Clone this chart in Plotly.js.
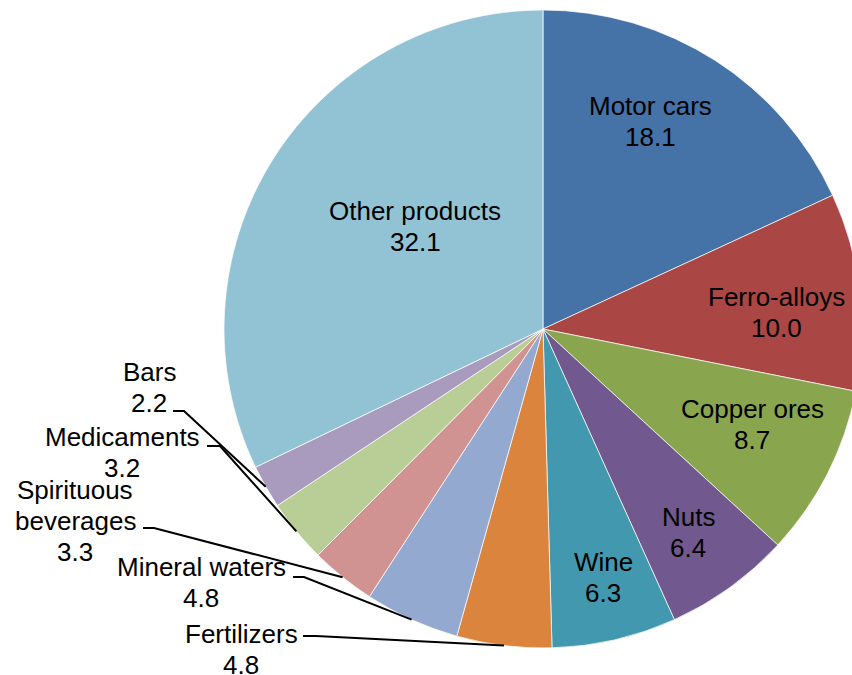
<!DOCTYPE html>
<html>
<head>
<meta charset="utf-8">
<script src="https://cdn.plot.ly/plotly-3.0.1.min.js"></script>
<style>
html,body{margin:0;padding:0;overflow:hidden;background:#fff;}
#chart{width:900px;height:675px;}
</style>
</head>
<body>
<div id="chart"></div>
<script>
const labels = ['Motor cars','Ferro-alloys','Copper ores','Nuts','Wine','Fertilizers','Mineral waters','Spirituous beverages','Medicaments','Bars','Other products'];
const values = [18.1, 10.0, 8.7, 6.4, 6.3, 4.8, 4.8, 3.3, 3.2, 2.2, 32.1];
const colors = ['#4572A7','#AA4643','#89A54E','#71588F','#4198AF','#DB843D','#93A9CF','#D19392','#B9CD96','#A99BBD','#92C3D4'];

// layout geometry (pixels)
const W = 900, H = 675;
const cx = 543, cy = 329, R = 319;
const FONT = 'Liberation Sans, Arial, sans-serif';
const FS = 26;
const LINE = 31;

// label placement: x = text centre, y = centre of first line; leader (outside labels only)
const labelPos = {
  'Motor cars':           {x:650, y:106, lines:['Motor cars']},
  'Ferro-alloys':         {x:776, y:297, lines:['Ferro-alloys']},
  'Copper ores':          {x:752, y:409, lines:['Copper ores']},
  'Nuts':                 {x:688, y:517, lines:['Nuts']},
  'Wine':                 {x:603, y:562, lines:['Wine']},
  'Other products':       {x:415, y:211, lines:['Other products']},
  'Fertilizers':          {x:241, y:634, lines:['Fertilizers'], lead:{x0:303, x1:316, y:636}},
  'Mineral waters':       {x:201, y:567, lines:['Mineral waters'], lead:{x0:293, x1:304, y:577}},
  'Spirituous beverages': {x:75,  y:490, lines:['Spirituous','beverages'], lead:{x0:143, x1:154, y:528}},
  'Medicaments':          {x:122, y:437, lines:['Medicaments'], lead:{x0:207, x1:220, y:446}},
  'Bars':                 {x:149, y:372, lines:['Bars'], lead:{x0:173, x1:184, y:411}}
};

const total = values.reduce((a,b)=>a+b,0);
const px = x => x / W;
const py = y => 1 - y / H;

const annotations = [];
const shapes = [];
let cum = 0;
labels.forEach((lab, i) => {
  const v = values[i];
  const mid = (cum + v/2) / total * 2 * Math.PI;
  cum += v;
  const o = labelPos[lab];
  const lines = o.lines.concat([v.toFixed(1)]);
  lines.forEach((t, k) => {
    annotations.push({
      xref:'paper', yref:'paper', x:px(o.x), y:py(o.y + k*LINE),
      xanchor:'center', yanchor:'middle', showarrow:false,
      text:t, font:{family:FONT, size:FS, color:'#000'}
    });
  });
  if (o.lead) {
    const ex = cx + R * Math.sin(mid);
    const ey = cy - R * Math.cos(mid);
    shapes.push({
      type:'path', xref:'paper', yref:'paper',
      path:`M ${px(o.lead.x0)} ${py(o.lead.y)} L ${px(o.lead.x1)} ${py(o.lead.y)} L ${px(ex)} ${py(ey)}`,
      line:{color:'#000', width:2}
    });
  }
});

const trace = {
  type:'pie',
  labels: labels,
  values: values,
  sort:false,
  direction:'clockwise',
  rotation:0,
  marker:{colors: colors, line:{color:'rgba(255,255,255,0.7)', width:1}},
  textinfo:'none',
  hoverinfo:'none',
  showlegend:false,
  domain:{x:[224/W, 862/W], y:[(H-648)/H, (H-10)/H]}
};

Plotly.newPlot('chart', [trace], {
  width:W, height:H,
  margin:{l:0,r:0,t:0,b:0},
  paper_bgcolor:'#fff',
  showlegend:false,
  font:{family:FONT, size:FS, color:'#000'},
  annotations: annotations,
  shapes: shapes
}, {staticPlot:true});
</script>
</body>
</html>
